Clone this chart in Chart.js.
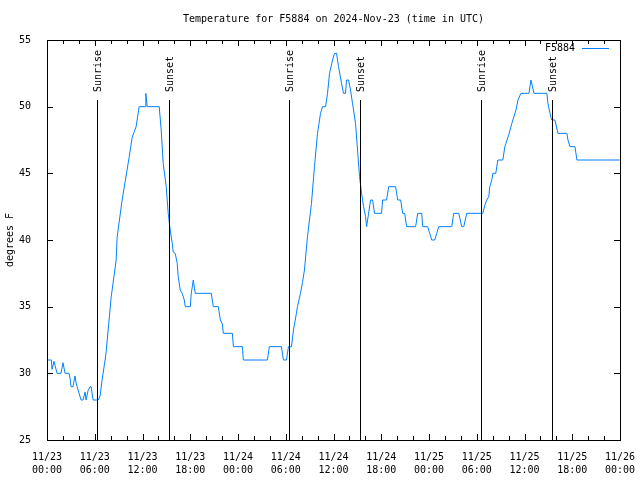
<!DOCTYPE html>
<html>
<head>
<meta charset="utf-8">
<script src="https://cdn.jsdelivr.net/npm/chart.js@4.4.1/dist/chart.umd.min.js"></script>
<style>
  body { margin: 0; background: #fff; }
  canvas { display: block; }
</style>
</head>
<body>
<canvas id="tempChart" width="640" height="480"></canvas>
<script>
// hours since 2024-11-23 00:00 UTC
const hours = [
  0.00, 0.55, 0.63, 0.88, 1.26, 1.76, 2.01, 2.27, 2.77, 2.90, 3.02, 3.27, 3.52, 3.65, 3.78,
  4.28, 4.53, 4.79, 4.91, 5.16, 5.41, 5.54, 5.79, 6.42, 6.67, 6.92, 7.30, 7.43, 8.06, 8.69,
  8.81, 9.44, 10.32, 10.70, 11.20, 11.58, 12.34, 12.42, 12.59, 14.10, 14.35, 14.60, 14.98, 15.23, 15.48,
  15.74, 15.86, 16.11, 16.36, 16.49, 16.74, 16.99, 17.25, 17.37, 18.00, 18.13, 18.38, 18.63, 20.64, 20.90,
  21.53, 21.78, 22.03, 22.16, 23.29, 23.42, 24.55, 24.67, 27.69, 27.94, 29.46, 29.71, 30.09, 30.34, 30.72,
  30.97, 31.34, 31.47, 31.85, 32.10, 32.35, 32.73, 33.23, 33.61, 33.99, 34.37, 34.62, 35.00, 35.25, 35.50,
  35.88, 36.13, 36.38, 36.63, 37.01, 37.26, 37.51, 37.64, 37.89, 38.14, 38.39, 38.77, 39.02, 39.27, 39.53,
  39.78, 40.03, 40.16, 40.41, 40.66, 40.91, 41.16, 42.04, 42.17, 42.67, 42.93, 43.81, 44.06, 44.44, 44.69,
  44.94, 45.19, 46.32, 46.58, 47.08, 47.21, 47.83, 48.09, 48.34, 48.72, 48.97, 49.22, 50.86, 51.11, 51.74,
  52.11, 52.37, 52.74, 54.76, 55.01, 55.26, 55.51, 55.64, 55.89, 56.02, 56.39, 56.65, 57.28, 57.53, 58.03,
  58.41, 58.54, 58.93, 59.18, 59.55, 60.56, 60.81, 60.93, 61.18, 62.82, 62.94, 63.32, 63.44, 63.82, 64.20,
  65.33, 65.46, 65.71, 66.34, 66.59, 72.00
];
const tempF = [
  31, 31, 30.3, 30.9, 30, 30, 30.8, 30, 30, 29.6, 29, 29, 29.8, 29.3, 29,
  28, 28, 28.6, 28, 28.7, 29, 29, 28, 28, 28.3, 29.5, 31, 31.6, 35.7, 38.5,
  40.2, 43, 46.2, 47.7, 48.5, 50, 50, 51, 50, 50, 48.25, 45.75, 44, 42, 40.75,
  39.75, 39.1, 39, 38.25, 37.25, 36.25, 36, 35.5, 35, 35, 36, 37, 36, 36, 35,
  35, 34, 33.7, 33, 33, 32, 32, 31, 31, 32, 32, 31, 31, 32, 32,
  33.25, 34.5, 35, 36, 36.8, 37.75, 40.25, 42.75, 45.5, 48, 49.5, 50, 50, 51, 52.5,
  53.5, 54, 54, 53, 51.75, 51, 51, 52, 52, 51.25, 50.25, 48.75, 46.75, 44.75, 43.5,
  42.5, 41.75, 41, 42, 43, 43, 42, 42, 43, 43, 44, 44, 43, 43, 42,
  42, 41, 41, 42, 42, 41, 41, 40.5, 40, 40, 40.5, 41, 41, 42, 42,
  41, 41, 42, 42, 42.6, 43, 43.25, 44, 44.5, 45, 45, 46, 46, 47, 47.9,
  48.75, 49, 49.75, 50.5, 51, 51, 52, 51.7, 51, 51, 50.25, 49.2, 49, 49, 48,
  48, 47.5, 47, 47, 46, 46
];

const xTickLabels = [
  ['11/23', '00:00'], ['11/23', '06:00'], ['11/23', '12:00'], ['11/23', '18:00'],
  ['11/24', '00:00'], ['11/24', '06:00'], ['11/24', '12:00'], ['11/24', '18:00'],
  ['11/25', '00:00'], ['11/25', '06:00'], ['11/25', '12:00'], ['11/25', '18:00'],
  ['11/26', '00:00']
];

const sunHours = [6.3, 15.37, 30.45, 39.37, 54.58, 63.5];
const sunLabels = ['Sunrise', 'Sunset', 'Sunrise', 'Sunset', 'Sunrise', 'Sunset'];
const sunLineTop = 50.5;

const chartTitle = 'Temperature for F5884 on 2024-Nov-23 (time in UTC)';
const lineColor = 'rgb(0, 128, 255)';
const monoFont = "'DejaVu Sans Mono', 'Liberation Mono', monospace";

Chart.defaults.font.family = monoFont;
Chart.defaults.color = '#000';

// title over the plot box, frame, inward ticks, sunrise/sunset markers and key
const gnuplotLook = {
  id: 'gnuplotLook',
  afterDatasetsDraw(chart) {
    const ctx = chart.ctx;
    const a = chart.chartArea;
    const xs = chart.scales.x;
    const ys = chart.scales.y;
    ctx.save();
    ctx.strokeStyle = '#000';
    ctx.lineWidth = 1;
    ctx.font = '10px ' + monoFont;
    ctx.fillStyle = '#000';

    ctx.textAlign = 'center';
    ctx.textBaseline = 'middle';
    ctx.fillText(chartTitle, (a.left + a.right) / 2, 19);

    // sun lines
    for (let i = 0; i < sunHours.length; i++) {
      const px = Math.round(xs.getPixelForValue(sunHours[i])) + 0.5;
      const top = ys.getPixelForValue(sunLineTop);
      ctx.beginPath();
      ctx.moveTo(px, top);
      ctx.lineTo(px, a.bottom);
      ctx.stroke();
      ctx.save();
      ctx.translate(px + 1, top - 8);
      ctx.rotate(-Math.PI / 2);
      ctx.textAlign = 'left';
      ctx.textBaseline = 'middle';
      ctx.fillText(sunLabels[i], 0, 0);
      ctx.restore();
    }

    // frame
    ctx.strokeRect(Math.round(a.left) + 0.5, Math.round(a.top) + 0.5,
      Math.round(a.right - a.left), Math.round(a.bottom - a.top));

    // x ticks every 2 hours, longer every 6
    for (let h = 0; h <= 72; h += 2) {
      const px = Math.round(xs.getPixelForValue(h)) + 0.5;
      const len = h % 6 === 0 ? 6 : 4;
      ctx.beginPath();
      ctx.moveTo(px, a.bottom);
      ctx.lineTo(px, a.bottom - len);
      ctx.moveTo(px, a.top);
      ctx.lineTo(px, a.top + len);
      ctx.stroke();
    }
    // y ticks
    for (let v = 25; v <= 55; v += 5) {
      const py = Math.round(ys.getPixelForValue(v)) + 0.5;
      ctx.beginPath();
      ctx.moveTo(a.left, py);
      ctx.lineTo(a.left + 6, py);
      ctx.moveTo(a.right, py);
      ctx.lineTo(a.right - 6, py);
      ctx.stroke();
    }

    // key
    const ky = a.top + 8.5;
    ctx.textAlign = 'right';
    ctx.textBaseline = 'middle';
    ctx.fillText(chart.data.datasets[0].label, a.right - 45, ky);
    ctx.strokeStyle = lineColor;
    ctx.beginPath();
    ctx.moveTo(a.right - 38, ky);
    ctx.lineTo(a.right - 11, ky);
    ctx.stroke();
    ctx.restore();
  }
};

new Chart(document.getElementById('tempChart'), {
  type: 'line',
  data: {
    datasets: [
      {
        label: 'F5884',
        data: hours.map((h, i) => ({ x: h, y: tempF[i] })),
        borderColor: lineColor,
        borderWidth: 1,
        pointRadius: 0,
        tension: 0,
        fill: false
      }
    ]
  },
  options: {
    responsive: false,
    animation: false,
    layout: { padding: { top: 40, right: 20 } },
    plugins: {
      legend: { display: false },
      tooltip: { enabled: false },
      title: { display: false }
    },
    scales: {
      x: {
        type: 'linear',
        min: 0,
        max: 72,
        grid: { display: false },
        border: { display: false },
        ticks: {
          stepSize: 6,
          autoSkip: false,
          maxRotation: 0,
          padding: 3,
          font: { size: 10, lineHeight: 1.3 },
          callback: (value, index) => xTickLabels[index]
        },
        afterFit: (scale) => { scale.height = 40; }
      },
      y: {
        min: 25,
        max: 55,
        grid: { display: false },
        border: { display: false },
        ticks: { stepSize: 5, padding: 8, font: { size: 10 } },
        title: {
          display: true,
          text: 'degrees F',
          font: { size: 10 },
          padding: { top: 4, bottom: 0 }
        },
        afterFit: (scale) => { scale.width = 47; }
      }
    }
  },
  plugins: [gnuplotLook]
});
</script>
</body>
</html>
